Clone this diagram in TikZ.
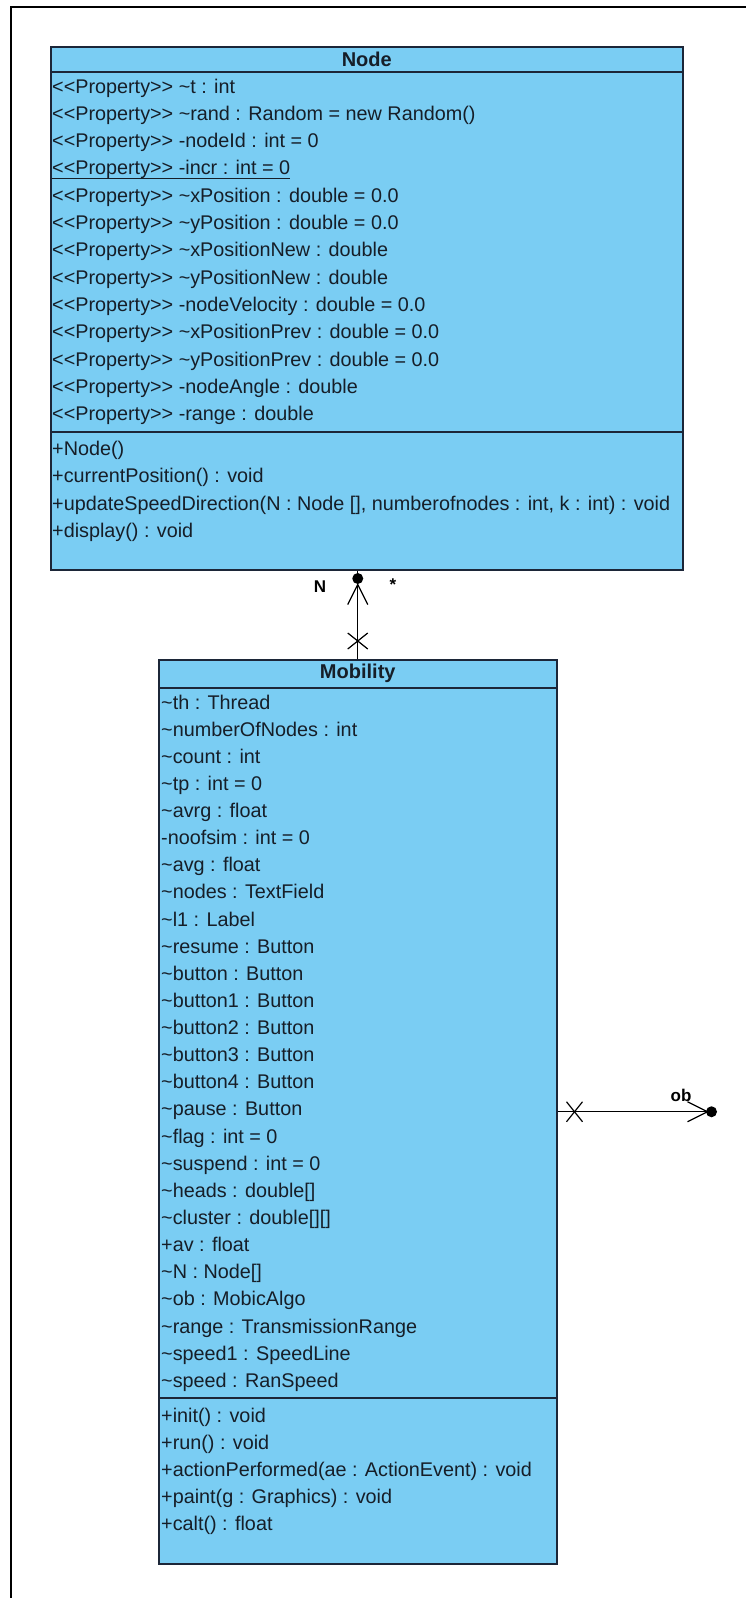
\documentclass[tikz,border=0pt]{standalone}
\usepackage{fontspec}
\setmainfont{Liberation Sans}
\definecolor{boxfill}{RGB}{122,205,243}
\definecolor{boxline}{RGB}{28,38,56}
\definecolor{txt}{RGB}{22,30,40}
\newcommand{\tild}{\textasciitilde}
\newcommand{\stereo}{<\kern0pt<Property>\kern0pt>}
\begin{document}
\begin{tikzpicture}[x=1pt,y=-1pt,
  classbox/.style={draw=boxline, fill=boxfill, line width=1.5pt, inner sep=0pt, anchor=north west},
  divider/.style={draw=boxline, line width=1.5pt},
  member/.style={anchor=west, inner sep=0pt, text height=14pt, text depth=4pt, text=txt, font=\fontsize{19.8}{22}\selectfont},
  classtitle/.style={inner sep=0pt, text=txt, font=\bfseries\fontsize{20}{22}\selectfont},
  conn/.style={draw=black, line width=1.2pt},
  frameline/.style={draw=black, line width=1.5pt},
  rolelabel/.style={inner sep=0pt, text=black, font=\bfseries\fontsize{17}{20}\selectfont},
  enddot/.style={circle, fill=black, inner sep=0pt, minimum size=11pt}
]
\useasboundingbox (0,0) rectangle (746,1598);
% outer frame
\coordinate (fbl) at (11,1598);
\coordinate (ftl) at (11,7);
\coordinate (ftr) at (746,7);
\draw[frameline] (fbl) -- (ftl) -- (ftr);

% ---------------- class Node ----------------
\node[classbox, minimum width=632pt, minimum height=523pt] (nodecls) at (50,46) {};
\node[classtitle] (nodetitle) at ([yshift=-13pt]nodecls.north) {Node};
\draw[divider] ([yshift=-26pt]nodecls.north west) -- ([yshift=-26pt]nodecls.north east);
\draw[divider] ([yshift=-386pt]nodecls.north west) -- ([yshift=-386pt]nodecls.north east);
\foreach \txt [count=\i] in {
  {\stereo{} \tild t : int},
  {\stereo{} \tild rand : Random = new Random()},
  {\stereo{} -nodeId : int = 0},
  {\stereo{} -incr : int = 0},
  {\stereo{} \tild xPosition : double = 0.0},
  {\stereo{} \tild yPosition : double = 0.0},
  {\stereo{} \tild xPositionNew : double},
  {\stereo{} \tild yPositionNew : double},
  {\stereo{} -nodeVelocity : double = 0.0},
  {\stereo{} \tild xPositionPrev : double = 0.0},
  {\stereo{} \tild yPositionPrev : double = 0.0},
  {\stereo{} -nodeAngle : double},
  {\stereo{} -range : double}}
  \node[member] (na\i) at (52,{88+27.33*(\i-1)}) {\txt};
\draw[draw=txt, line width=1pt] ([yshift=1pt]na4.south west) -- ([yshift=1pt]na4.south east);
\foreach \txt [count=\i] in {
  {+Node()},
  {+currentPosition() : void},
  {+updateSpeedDirection(N : Node [], numberofnodes : int, k : int) : void},
  {+display() : void}}
  \node[member] (nm\i) at (52,{450+27.5*(\i-1)}) {\txt};

% ---------------- class Mobility ----------------
\node[classbox, minimum width=398pt, minimum height=904pt] (mob) at (158,659) {};
\node[classtitle] (mobtitle) at ([yshift=-14.5pt]mob.north) {Mobility};
\draw[divider] ([yshift=-29pt]mob.north west) -- ([yshift=-29pt]mob.north east);
\draw[divider] ([yshift=-739pt]mob.north west) -- ([yshift=-739pt]mob.north east);
\foreach \txt [count=\i] in {
  {\tild th : Thread},
  {\tild numberOfNodes : int},
  {\tild count : int},
  {\tild tp : int = 0},
  {\tild avrg : float},
  {-noofsim : int = 0},
  {\tild avg : float},
  {\tild nodes : TextField},
  {\tild l1 : Label},
  {\tild resume : Button},
  {\tild button : Button},
  {\tild button1 : Button},
  {\tild button2 : Button},
  {\tild button3 : Button},
  {\tild button4 : Button},
  {\tild pause : Button},
  {\tild flag : int = 0},
  {\tild suspend : int = 0},
  {\tild heads : double[]},
  {\tild cluster : double[][]},
  {+av : float},
  {\tild N : Node[]},
  {\tild ob : MobicAlgo},
  {\tild range : TransmissionRange},
  {\tild speed1 : SpeedLine},
  {\tild speed : RanSpeed}}
  \node[member] (ma\i) at (161,{704+27.13*(\i-1)}) {\txt};
\foreach \txt [count=\i] in {
  {+init() : void},
  {+run() : void},
  {+actionPerformed(ae : ActionEvent) : void},
  {+paint(g : Graphics) : void},
  {+calt() : float}}
  \node[member] (mm\i) at (161,{1417+27*(\i-1)}) {\txt};

% ---------------- association Mobility -> Node ----------------
\coordinate (topend) at (nodecls.south -| mob.north);
\draw[conn] (mob.north) -- (topend);
\node[enddot] (dotN) at ([yshift=-8pt]topend) {};
\coordinate (tipN) at ([yshift=-14pt]topend);
\draw[conn] ([xshift=-10pt,yshift=-34pt]topend) -- (tipN) -- ([xshift=10pt,yshift=-34pt]topend);
\coordinate (xN) at ([yshift=18pt]mob.north);
\draw[conn] ([xshift=-10pt,yshift=-8pt]xN) -- ([xshift=10pt,yshift=8pt]xN);
\draw[conn] ([xshift=-10pt,yshift=8pt]xN) -- ([xshift=10pt,yshift=-8pt]xN);
\node[rolelabel] (labN) at (320,587) {N};
\node[rolelabel] (labStar) at (393,585) {*};

% ---------------- association Mobility -> ob ----------------
\node[enddot] (dotOb) at ([xshift=154pt]mob.east) {};
\draw[conn] (mob.east) -- (dotOb.center);
\coordinate (tipOb) at ([xshift=-4pt]dotOb.center);
\draw[conn] ([xshift=-20pt,yshift=10pt]tipOb) -- (tipOb) -- ([xshift=-20pt,yshift=-10pt]tipOb);
\coordinate (xOb) at ([xshift=17pt]mob.east);
\draw[conn] ([xshift=-8pt,yshift=-10pt]xOb) -- ([xshift=8pt,yshift=10pt]xOb);
\draw[conn] ([xshift=-8pt,yshift=10pt]xOb) -- ([xshift=8pt,yshift=-10pt]xOb);
\node[rolelabel] (labOb) at (681,1095) {ob};
\end{tikzpicture}
\end{document}
